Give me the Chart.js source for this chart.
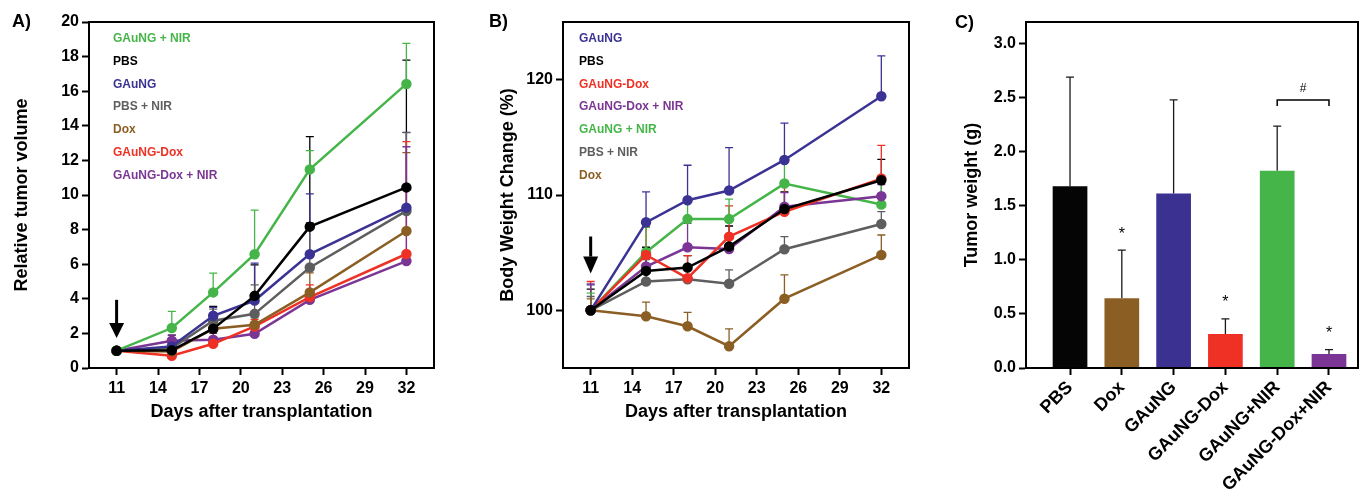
<!DOCTYPE html>
<html>
<head>
<meta charset="utf-8">
<script src="https://cdn.jsdelivr.net/npm/chart.js@4.4.1/dist/chart.umd.min.js"></script>
<style>
  body { margin: 0; background: #fff; width: 1366px; height: 499px; overflow: hidden; position: relative;
         font-family: "Liberation Sans", Arial, sans-serif; }
  canvas { position: absolute; top: 0; }
  .panel { position: absolute; font-weight: bold; font-size: 18px; color: #000; }
</style>
</head>
<body>
<canvas id="volChart" width="470" height="499" style="left:0"></canvas>
<canvas id="weightChart" width="470" height="499" style="left:474px"></canvas>
<canvas id="massChart" width="422" height="499" style="left:944px"></canvas>
<div class="panel" style="left:12px;top:11px">A)</div>
<div class="panel" style="left:489px;top:11px">B)</div>
<div class="panel" style="left:955px;top:12px">C)</div>

<script>
// ===============================
// data
// ===============================
const days = [11, 15, 18, 21, 25, 32];
const dayTicks = [11, 14, 17, 20, 23, 26, 29, 32];

// A) relative tumor volume (mean, top of error bar)
const volPBS = [1.0, 1.02, 2.27, 4.17, 8.17, 10.44];
const volPBSErr = [1.1, 1.9, 3.56, 5.96, 13.37, 17.8];
const volGNIR = [1.0, 2.31, 4.37, 6.58, 11.48, 16.42];
const volGNIRErr = [1.1, 3.27, 5.48, 9.13, 12.56, 18.77];
const volG = [1.0, 1.25, 3.02, 3.9, 6.58, 9.27];
const volGErr = [1.1, 1.5, 3.5, 6.06, 10.06, 13.62];
const volPNIR = [1.0, 1.15, 2.73, 3.13, 5.81, 9.08];
const volPNIRErr = [1.1, 1.4, 3.4, 4.8, 8.4, 13.6];
const volDox = [1.0, 0.96, 2.27, 2.5, 4.37, 7.92];
const volDoxErr = [1.1, 1.2, 2.6, 2.9, 5.5, 12.45];
const volGD = [1.0, 0.71, 1.4, 2.4, 4.1, 6.59];
const volGDErr = [1.1, 0.9, 1.8, 2.8, 4.8, 13.08];
const volGDNIR = [1.0, 1.58, 1.63, 1.98, 3.94, 6.18];
const volGDNIRErr = [1.1, 1.9, 2.0, 2.3, 4.5, 12.79];
const volTicks = [0, 2, 4, 6, 8, 10, 12, 14, 16, 18, 20];

// B) body weight change (%)
const bwG = [100, 107.63, 109.55, 110.39, 113.04, 118.56];
const bwGErr = [102.2, 110.27, 112.58, 114.1, 116.23, 122.07];
const bwPBS = [100, 103.42, 103.71, 105.53, 108.78, 111.28];
const bwPBSErr = [101.84, 105.47, 104.75, 107.31, 110.27, 113.09];
const bwGD = [100, 104.8, 102.79, 106.39, 108.55, 111.42];
const bwGDErr = [102.5, 107.25, 104.75, 109.06, 111.2, 114.3];
const bwGDNIR = [100, 103.8, 105.47, 105.32, 108.98, 109.9];
const bwGDNIRErr = [102.3, 105.0, 107.54, 106.5, 110.2, 110.9];
const bwGNIR = [100, 105.04, 107.91, 107.91, 110.99, 109.18];
const bwGNIRErr = [101.5, 107.19, 109.6, 109.64, 113.0, 111.7];
const bwPNIR = [100, 102.5, 102.7, 102.3, 105.3, 107.48];
const bwPNIRErr = [101.2, 104.4, 103.0, 103.51, 106.39, 108.55];
const bwDox = [100, 99.48, 98.62, 96.89, 101.01, 104.8];
const bwDoxErr = [101.0, 100.72, 99.83, 98.39, 103.08, 106.53];
const bwTicks = [100, 110, 120];

// C) tumor weight (g)
const massGroups = ["PBS", "Dox", "GAuNG", "GAuNG-Dox", "GAuNG+NIR", "GAuNG-Dox+NIR"];
const massMean = [1.68, 0.646, 1.615, 0.314, 1.825, 0.129];
const massErr = [2.69, 1.09, 2.48, 0.455, 2.237, 0.17];
const massSig = ["", "*", "", "*", "", "*"];
const massTicks = [0, 0.5, 1.0, 1.5, 2.0, 2.5, 3.0];

// ===============================
// styles
// ===============================
const FONT = '"Liberation Sans", Arial, sans-serif';
const colors = {
    "PBS": "#000000",
    "PBS + NIR": "#5e5e5e",
    "Dox": "#8b5e24",
    "GAuNG": "#3b3394",
    "GAuNG + NIR": "#46b549",
    "GAuNG-Dox": "#ee3124",
    "GAuNG-Dox + NIR": "#7b3695"
};
const barColors = ["#050505", "#8b5e24", "#3b3190", "#ee3124", "#46b549", "#7b3695"];

// ===============================
// plugins
// ===============================
const frame = {
    id: "frame",
    afterDraw(chart) {
        const { ctx, chartArea: a } = chart;
        ctx.save();
        ctx.strokeStyle = "#000";
        ctx.lineWidth = 2;
        ctx.strokeRect(a.left, a.top, a.right - a.left, a.bottom - a.top);
        ctx.restore();
    }
};

const errorBars = {
    id: "errorBars",
    beforeDatasetsDraw(chart) {
        const ctx = chart.ctx, y = chart.scales.y;
        chart.data.datasets.forEach((ds, i) => {
            if (!ds.errTop) return;
            const meta = chart.getDatasetMeta(i);
            ctx.save();
            ctx.strokeStyle = ds.errColor || ds.borderColor;
            ctx.lineWidth = 1.3;
            meta.data.forEach((el, j) => {
                const top = y.getPixelForValue(ds.errTop[j]);
                ctx.beginPath();
                ctx.moveTo(el.x, el.y);
                ctx.lineTo(el.x, top);
                ctx.moveTo(el.x - 4, top);
                ctx.lineTo(el.x + 4, top);
                ctx.stroke();
            });
            ctx.restore();
        });
    }
};

function textLegend(names, dx) {
    return {
        id: "textLegend",
        afterDraw(chart) {
            const { ctx, chartArea: a } = chart;
            ctx.save();
            ctx.font = "bold 12px " + FONT;
            ctx.textBaseline = "middle";
            names.forEach((n, i) => {
                ctx.fillStyle = colors[n];
                ctx.fillText(n, a.left + dx, a.top + 17 + i * 22.7);
            });
            ctx.restore();
        }
    };
}

function arrow(day, from, to, headFrom) {
    return {
        id: "arrow",
        afterDraw(chart) {
            const { ctx, scales: { x, y } } = chart;
            const px = x.getPixelForValue(day);
            const y0 = y.getPixelForValue(from), y1 = y.getPixelForValue(to), yh = y.getPixelForValue(headFrom);
            ctx.save();
            ctx.strokeStyle = "#000";
            ctx.fillStyle = "#000";
            ctx.lineWidth = 3;
            ctx.beginPath();
            ctx.moveTo(px, y0);
            ctx.lineTo(px, yh);
            ctx.stroke();
            ctx.beginPath();
            ctx.moveTo(px - 7.5, yh);
            ctx.lineTo(px + 7.5, yh);
            ctx.lineTo(px, y1);
            ctx.closePath();
            ctx.fill();
            ctx.restore();
        }
    };
}

const significance = {
    id: "significance",
    afterDraw(chart) {
        const { ctx, scales: { x, y } } = chart;
        ctx.save();
        ctx.fillStyle = "#000";
        ctx.strokeStyle = "#000";
        ctx.textAlign = "center";
        ctx.textBaseline = "middle";
        ctx.font = "16px " + FONT;
        massSig.forEach((s, i) => {
            if (!s) return;
            ctx.fillText(s, x.getPixelForValue(i + 1), y.getPixelForValue(massErr[i]) - 16);
        });
        // bracket GAuNG+NIR vs GAuNG-Dox+NIR
        const bx0 = x.getPixelForValue(5), bx1 = x.getPixelForValue(6);
        const by = y.getPixelForValue(massErr[4]) - 26;
        ctx.lineWidth = 1.5;
        ctx.beginPath();
        ctx.moveTo(bx0, by + 6);
        ctx.lineTo(bx0, by);
        ctx.lineTo(bx1, by);
        ctx.lineTo(bx1, by + 6);
        ctx.stroke();
        ctx.font = "12px " + FONT;
        ctx.fillText("#", (bx0 + bx1) / 2, by - 11);
        ctx.restore();
    }
};

// ===============================
// base axis config
// ===============================
function axisY(ticks, min, max, title, width, titlePad, fmt) {
    return {
        min: min, max: max,
        afterBuildTicks: (s) => { s.ticks = ticks.map(v => ({ value: v })); },
        afterFit: (s) => { s.width = width; s.paddingTop = 0; s.paddingBottom = 0; },
        border: { color: "#000", width: 2 },
        grid: { drawOnChartArea: false, tickLength: 7, tickWidth: 2, tickColor: "#000" },
        ticks: {
            color: "#000", padding: 3, font: { family: FONT, size: 16, weight: "bold" },
            callback: fmt || (v => v)
        },
        title: {
            display: true, text: title, color: "#000",
            font: { family: FONT, size: 18, weight: "bold" }, padding: { top: titlePad, bottom: 0 }
        }
    };
}

function axisDays() {
    return {
        type: "linear", min: 9, max: 34,
        afterBuildTicks: (s) => { s.ticks = dayTicks.map(v => ({ value: v })); },
        afterFit: (s) => { s.height = 55; s.paddingLeft = 0; s.paddingRight = 0; },
        border: { color: "#000", width: 2 },
        grid: { drawOnChartArea: false, tickLength: 7, tickWidth: 2, tickColor: "#000" },
        ticks: { color: "#000", padding: 4, font: { family: FONT, size: 16, weight: "bold" } },
        title: {
            display: true, text: "Days after transplantation", color: "#000",
            font: { family: FONT, size: 18, weight: "bold" }, padding: 0
        }
    };
}

function series(name, values, err) {
    return {
        label: name,
        data: values.map((v, i) => ({ x: days[i], y: v })),
        errTop: err,
        borderColor: colors[name],
        backgroundColor: colors[name],
        pointBackgroundColor: colors[name],
        pointBorderColor: colors[name],
        borderWidth: 2.5,
        pointRadius: 4,
        tension: 0
    };
}

const baseOptions = {
    responsive: false,
    animation: false,
    events: [],
    plugins: { legend: { display: false }, tooltip: { enabled: false } }
};

// ===============================
// A) tumor volume
// ===============================
new Chart(document.getElementById("volChart"), {
    type: "line",
    data: {
        datasets: [
            series("PBS", volPBS, volPBSErr),
            series("GAuNG + NIR", volGNIR, volGNIRErr),
            series("GAuNG", volG, volGErr),
            series("PBS + NIR", volPNIR, volPNIRErr),
            series("Dox", volDox, volDoxErr),
            series("GAuNG-Dox", volGD, volGDErr),
            series("GAuNG-Dox + NIR", volGDNIR, volGDNIRErr)
        ]
    },
    options: {
        ...baseOptions,
        layout: { padding: { left: 0, top: 22, right: 36, bottom: 76 } },
        scales: {
            x: axisDays(),
            y: axisY(volTicks, 0, 20, "Relative tumor volume", 89, 11)
        }
    },
    plugins: [errorBars, frame, arrow(11, 3.94, 1.73, 2.6),
        textLegend(["GAuNG + NIR", "PBS", "GAuNG", "PBS + NIR", "Dox", "GAuNG-Dox", "GAuNG-Dox + NIR"], 24)]
});

// ===============================
// B) body weight
// ===============================
new Chart(document.getElementById("weightChart"), {
    type: "line",
    data: {
        datasets: [
            series("PBS", bwPBS, bwPBSErr),
            series("GAuNG", bwG, bwGErr),
            series("GAuNG-Dox", bwGD, bwGDErr),
            series("GAuNG-Dox + NIR", bwGDNIR, bwGDNIRErr),
            series("GAuNG + NIR", bwGNIR, bwGNIRErr),
            series("PBS + NIR", bwPNIR, bwPNIRErr),
            series("Dox", bwDox, bwDoxErr)
        ]
    },
    options: {
        ...baseOptions,
        layout: { padding: { left: 0, top: 22, right: 35, bottom: 76 } },
        scales: {
            x: axisDays(),
            y: axisY(bwTicks, 95, 125, "Body Weight Change (%)", 89, 23)
        }
    },
    plugins: [errorBars, frame, arrow(11, 106.4, 103.2, 104.66),
        textLegend(["GAuNG", "PBS", "GAuNG-Dox", "GAuNG-Dox + NIR", "GAuNG + NIR", "PBS + NIR", "Dox"], 16)]
});

// ===============================
// C) tumor weight
// ===============================
new Chart(document.getElementById("massChart"), {
    type: "bar",
    data: {
        datasets: [{
            data: massMean.map((v, i) => ({ x: i + 1, y: v })),
            errTop: massErr,
            errColor: "#1a1a1a",
            backgroundColor: barColors,
            categoryPercentage: 1,
            barPercentage: 0.67
        }]
    },
    options: {
        ...baseOptions,
        layout: { padding: { left: 0, top: 22, right: 8, bottom: 0 } },
        scales: {
            x: {
                type: "linear", min: 0.15, max: 6.56, offset: false,
                afterBuildTicks: (s) => { s.ticks = massGroups.map((g, i) => ({ value: i + 1 })); },
                afterFit: (s) => { s.height = 131; s.paddingLeft = 0; s.paddingRight = 0; },
                border: { color: "#000", width: 2 },
                grid: { drawOnChartArea: false, offset: false, tickLength: 7, tickWidth: 2, tickColor: "#000" },
                ticks: {
                    color: "#000", padding: 2, autoSkip: false, minRotation: 45, maxRotation: 45,
                    font: { family: FONT, size: 18, weight: "bold" },
                    callback: v => massGroups[v - 1]
                }
            },
            y: axisY(massTicks, 0, 3.2, "Tumor weight (g)", 82, 17, v => v.toFixed(1))
        }
    },
    plugins: [errorBars, frame, significance]
});
</script>
</body>
</html>
